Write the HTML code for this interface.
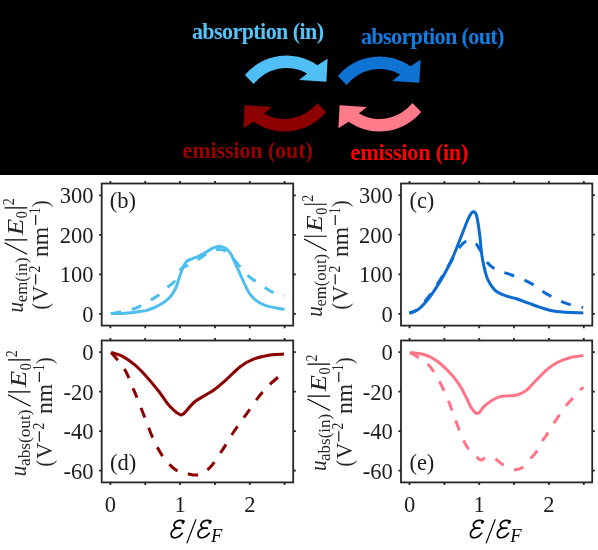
<!DOCTYPE html><html><head><meta charset="utf-8"><style>html,body{margin:0;padding:0;background:#fff;overflow:hidden}svg{display:block;will-change:transform}</style></head><body>
<svg width="598" height="550" viewBox="0 0 598 550">
<rect x="0" y="0" width="598" height="550" fill="#fff"/>
<rect x="0" y="0" width="598" height="175" fill="#000"/>
<path d="M244.9,75.0 A54,54 0 0 1 317.4,65.2 L327.6,58.8 L326.4,81.8 L299.2,80.0 L307.1,73.6 A41.5,41.5 0 0 0 253.6,84.1 Z" fill="#50BFF5"/>
<path d="M244.9,75.0 A54,54 0 0 1 317.4,65.2 L327.6,58.8 L326.4,81.8 L299.2,80.0 L307.1,73.6 A41.5,41.5 0 0 0 253.6,84.1 Z" fill="#0F73D4" transform="translate(93,1)"/>
<path d="M244.9,75.0 A54,54 0 0 1 317.4,65.2 L327.6,58.8 L326.4,81.8 L299.2,80.0 L307.1,73.6 A41.5,41.5 0 0 0 253.6,84.1 Z" fill="#8C0000" transform="translate(571,187) rotate(180)"/>
<path d="M244.9,75.0 A54,54 0 0 1 317.4,65.2 L327.6,58.8 L326.4,81.8 L299.2,80.0 L307.1,73.6 A41.5,41.5 0 0 0 253.6,84.1 Z" fill="#FF7B8A" transform="translate(666,187) rotate(180)"/>
<text x="0" y="0" transform="translate(191.9,39.4) scale(0.950,1)" textLength="139.1" lengthAdjust="spacing" fill="#55C3F8" style="font-family:'Liberation Serif',serif;font-weight:bold;font-size:23.2px">absorption (in)</text>
<text x="0" y="0" transform="translate(360.9,43.7) scale(0.950,1)" textLength="151.2" lengthAdjust="spacing" fill="#147CE0" style="font-family:'Liberation Serif',serif;font-weight:bold;font-size:23.5px">absorption (out)</text>
<text x="0" y="0" transform="translate(182.5,158.1) scale(0.950,1)" textLength="137.1" lengthAdjust="spacing" fill="#9A0000" style="font-family:'Liberation Serif',serif;font-weight:bold;font-size:23.2px">emission (out)</text>
<text x="0" y="0" transform="translate(350.5,159.9) scale(0.950,1)" textLength="124.2" lengthAdjust="spacing" fill="#FF0000" style="font-family:'Liberation Serif',serif;font-weight:bold;font-size:23.5px">emission (in)</text>
<clipPath id="clipb"><rect x="101.7" y="183.5" width="191.5" height="142.1"/></clipPath>
<g clip-path="url(#clipb)" fill="none" stroke="#4DBEEE" stroke-width="3">
<path d="M110.9,313.6 C114.4,312.9 126.9,310.6 131.8,309.4 C136.7,308.1 136.8,307.8 140.1,306.1 C143.4,304.4 148.7,301.2 151.8,299.4 C154.9,297.6 155.9,297.2 158.5,295.2 C161.1,293.2 164.7,289.5 167.4,287.2 C170.1,284.9 172.4,284.3 174.7,281.2 C177.0,278.1 179.1,271.1 181.4,268.4 C183.8,265.7 185.9,266.7 188.8,265.1 C191.7,263.6 195.8,261.0 198.8,259.1 C201.8,257.2 203.9,255.3 206.8,253.7 C209.7,252.1 213.1,250.1 216.2,249.7 C219.3,249.2 222.7,249.4 225.6,251.0 C228.5,252.6 231.2,256.5 233.6,259.1 C236.0,261.7 237.7,264.0 240.2,266.8 C242.7,269.6 246.0,273.6 248.5,276.0 C251.0,278.4 252.4,279.1 255.2,281.0 C258.0,282.9 262.1,285.8 265.2,287.7 C268.3,289.6 270.4,291.3 273.6,292.7 C276.8,294.1 282.7,295.4 284.5,296.0" stroke-dasharray="10.4 10.8" stroke-dashoffset="0.0"/>
<path d="M110.9,313.6 C113.2,313.6 120.7,313.6 125.0,313.3 C129.3,313.0 132.9,312.6 136.8,312.0 C140.7,311.4 144.7,311.1 148.6,309.8 C152.5,308.6 156.8,306.6 160.4,304.5 C164.0,302.4 167.3,300.1 169.9,297.3 C172.5,294.6 174.2,291.3 175.8,288.0 C177.4,284.7 178.1,280.9 179.3,277.5 C180.5,274.1 181.7,270.6 182.9,267.9 C184.1,265.2 185.0,263.0 186.5,261.5 C188.0,260.0 190.0,259.7 192.0,258.8 C194.0,257.9 196.4,257.4 198.6,256.4 C200.8,255.4 202.8,254.0 205.3,252.6 C207.8,251.2 210.9,248.8 213.4,247.8 C215.9,246.8 218.0,246.4 220.1,246.5 C222.2,246.6 224.1,247.1 225.9,248.4 C227.7,249.7 229.3,251.4 231.0,254.2 C232.7,257.0 234.3,261.5 236.0,265.1 C237.7,268.7 239.5,272.6 241.0,276.0 C242.5,279.4 243.7,282.1 245.2,285.2 C246.7,288.3 248.2,291.8 250.2,294.4 C252.1,297.0 254.4,299.3 256.9,301.1 C259.4,302.9 262.1,304.2 265.2,305.3 C268.3,306.4 272.1,307.1 275.3,307.8 C278.5,308.5 283.0,309.1 284.5,309.4"/>
</g>
<g stroke="#262626" stroke-width="1.8" fill="none">
<rect x="101.7" y="183.5" width="191.5" height="142.1"/>
<path d="M110.4,183.5v-2.6M110.4,325.6v2.6"/>
<path d="M145.2,183.5v-2.6M145.2,325.6v2.6"/>
<path d="M180.1,183.5v-2.6M180.1,325.6v2.6"/>
<path d="M215.0,183.5v-2.6M215.0,325.6v2.6"/>
<path d="M249.8,183.5v-2.6M249.8,325.6v2.6"/>
<path d="M284.6,183.5v-2.6M284.6,325.6v2.6"/>
<path d="M101.7,313.9h-2.6M293.2,313.9h2.6"/>
<path d="M101.7,274.4h-2.6M293.2,274.4h2.6"/>
<path d="M101.7,234.8h-2.6M293.2,234.8h2.6"/>
<path d="M101.7,195.3h-2.6M293.2,195.3h2.6"/>
</g>
<text x="93.4" y="321.8" text-anchor="end" fill="#1c1c1c" style="font-family:'Liberation Serif',serif;font-size:22.5px">0</text>
<text x="93.4" y="282.3" text-anchor="end" fill="#1c1c1c" style="font-family:'Liberation Serif',serif;font-size:22.5px">100</text>
<text x="93.4" y="242.7" text-anchor="end" fill="#1c1c1c" style="font-family:'Liberation Serif',serif;font-size:22.5px">200</text>
<text x="93.4" y="203.2" text-anchor="end" fill="#1c1c1c" style="font-family:'Liberation Serif',serif;font-size:22.5px">300</text>
<text x="109.8" y="207.5" fill="#1c1c1c" style="font-family:'Liberation Serif',serif;font-size:22.5px">(b)</text>
<clipPath id="clipc"><rect x="401.0" y="183.5" width="191.3" height="142.1"/></clipPath>
<g clip-path="url(#clipc)" fill="none" stroke="#0B6BD0" stroke-width="3">
<path d="M409.4,313.1 C410.8,312.4 414.6,312.0 418.0,309.0 C421.4,306.0 426.3,299.8 430.0,295.0 C433.7,290.2 436.9,284.9 440.0,280.0 C443.1,275.1 445.2,271.2 448.7,265.5 C452.1,259.8 457.4,250.1 460.7,245.9 C464.0,241.7 465.9,241.0 468.3,240.4 C470.7,239.8 472.9,241.0 474.9,242.6 C476.9,244.2 478.1,246.8 480.3,250.2 C482.5,253.6 485.3,260.0 488.0,263.3 C490.7,266.6 493.1,268.1 496.7,269.9 C500.2,271.7 504.0,272.2 509.3,274.2 C514.6,276.2 522.5,278.9 528.6,282.1 C534.8,285.3 540.1,290.1 546.2,293.6 C552.4,297.1 559.4,300.9 565.5,303.2 C571.6,305.5 580.2,306.9 583.1,307.6" stroke-dasharray="10.4 10.8" stroke-dashoffset="1.8"/>
<path d="M409.4,313.3 C410.8,312.7 415.2,311.7 418.1,309.6 C421.0,307.5 423.9,304.3 426.8,300.8 C429.7,297.3 432.7,293.0 435.6,288.6 C438.5,284.2 441.4,279.5 444.3,274.2 C447.2,268.9 450.1,263.4 453.0,256.8 C455.9,250.2 459.2,241.3 461.8,234.9 C464.4,228.5 466.5,222.4 468.3,218.6 C470.1,214.8 471.3,212.5 472.7,212.0 C474.1,211.5 475.4,211.8 476.5,215.5 C477.6,219.2 478.8,227.7 479.6,234.0 C480.5,240.3 480.8,247.8 481.6,253.4 C482.4,258.9 483.2,263.0 484.2,267.3 C485.2,271.6 486.0,275.6 487.7,279.4 C489.4,283.1 491.9,287.2 494.6,289.8 C497.3,292.4 500.4,293.7 504.0,295.2 C507.6,296.7 512.2,297.5 516.3,298.8 C520.4,300.1 524.5,301.7 528.6,303.2 C532.7,304.7 536.2,306.2 540.9,307.6 C545.6,309.0 549.6,310.6 556.7,311.5 C563.8,312.4 578.9,312.7 583.3,312.9"/>
</g>
<g stroke="#262626" stroke-width="1.8" fill="none">
<rect x="401.0" y="183.5" width="191.3" height="142.1"/>
<path d="M409.5,183.5v-2.6M409.5,325.6v2.6"/>
<path d="M444.4,183.5v-2.6M444.4,325.6v2.6"/>
<path d="M479.2,183.5v-2.6M479.2,325.6v2.6"/>
<path d="M514.0,183.5v-2.6M514.0,325.6v2.6"/>
<path d="M548.9,183.5v-2.6M548.9,325.6v2.6"/>
<path d="M583.8,183.5v-2.6M583.8,325.6v2.6"/>
<path d="M401.0,313.8h-2.6M592.3,313.8h2.6"/>
<path d="M401.0,274.3h-2.6M592.3,274.3h2.6"/>
<path d="M401.0,234.7h-2.6M592.3,234.7h2.6"/>
<path d="M401.0,195.2h-2.6M592.3,195.2h2.6"/>
</g>
<text x="392.7" y="321.7" text-anchor="end" fill="#1c1c1c" style="font-family:'Liberation Serif',serif;font-size:22.5px">0</text>
<text x="392.7" y="282.2" text-anchor="end" fill="#1c1c1c" style="font-family:'Liberation Serif',serif;font-size:22.5px">100</text>
<text x="392.7" y="242.6" text-anchor="end" fill="#1c1c1c" style="font-family:'Liberation Serif',serif;font-size:22.5px">200</text>
<text x="392.7" y="203.1" text-anchor="end" fill="#1c1c1c" style="font-family:'Liberation Serif',serif;font-size:22.5px">300</text>
<text x="409.4" y="207.5" fill="#1c1c1c" style="font-family:'Liberation Serif',serif;font-size:22.5px">(c)</text>
<clipPath id="clipd"><rect x="101.7" y="340.5" width="191.5" height="141.9"/></clipPath>
<g clip-path="url(#clipd)" fill="none" stroke="#8B0000" stroke-width="3">
<path d="M111.1,352.4 C113.4,355.3 120.8,363.1 124.7,369.6 C128.6,376.2 131.2,383.9 134.5,391.7 C137.8,399.5 141.0,408.1 144.3,416.3 C147.6,424.5 150.8,433.9 154.1,440.8 C157.4,447.8 160.3,453.1 164.0,458.0 C167.7,462.9 172.2,467.6 176.3,470.3 C180.4,473.0 184.8,473.3 188.5,474.0 C192.2,474.7 194.9,475.7 198.4,474.7 C201.9,473.7 205.8,471.8 209.7,467.8 C213.6,463.8 217.9,456.8 222.0,450.7 C226.1,444.6 230.2,437.1 234.3,431.0 C238.4,424.9 242.5,419.5 246.6,413.8 C250.7,408.1 255.2,401.3 258.9,396.6 C262.6,391.9 265.2,389.0 268.7,385.5 C272.2,382.0 277.2,377.9 279.8,375.7 C282.4,373.4 283.6,372.6 284.4,372.0" stroke-dasharray="10.4 10.8" stroke-dashoffset="0.0"/>
<path d="M111.1,352.4 C112.9,353.0 118.3,354.1 122.2,356.1 C126.1,358.2 130.4,361.2 134.5,364.7 C138.6,368.2 142.7,372.4 146.8,376.9 C150.9,381.4 155.4,387.0 159.1,391.7 C162.8,396.4 165.6,401.5 168.9,405.2 C172.2,408.9 176.2,412.4 178.7,413.8 C181.1,415.2 180.9,415.9 183.6,413.8 C186.3,411.8 190.1,405.4 195.1,401.5 C200.1,397.6 208.5,393.8 213.5,390.3 C218.5,386.8 220.8,384.5 225.2,380.6 C229.6,376.7 235.5,370.3 240.2,366.7 C244.9,363.1 248.6,361.1 253.6,359.2 C258.6,357.2 264.9,355.9 270.0,355.0 C275.1,354.1 281.7,354.2 284.0,354.1"/>
</g>
<g stroke="#262626" stroke-width="1.8" fill="none">
<rect x="101.7" y="340.5" width="191.5" height="141.9"/>
<path d="M110.4,340.5v-2.6M110.4,482.4v2.6"/>
<path d="M145.2,340.5v-2.6M145.2,482.4v2.6"/>
<path d="M180.1,340.5v-2.6M180.1,482.4v2.6"/>
<path d="M215.0,340.5v-2.6M215.0,482.4v2.6"/>
<path d="M249.8,340.5v-2.6M249.8,482.4v2.6"/>
<path d="M284.6,340.5v-2.6M284.6,482.4v2.6"/>
<path d="M101.7,352.2h-2.6M293.2,352.2h2.6"/>
<path d="M101.7,391.7h-2.6M293.2,391.7h2.6"/>
<path d="M101.7,431.2h-2.6M293.2,431.2h2.6"/>
<path d="M101.7,470.7h-2.6M293.2,470.7h2.6"/>
</g>
<text x="93.4" y="360.1" text-anchor="end" fill="#1c1c1c" style="font-family:'Liberation Serif',serif;font-size:22.5px">0</text>
<text x="93.4" y="399.6" text-anchor="end" fill="#1c1c1c" style="font-family:'Liberation Serif',serif;font-size:22.5px">-20</text>
<text x="93.4" y="439.1" text-anchor="end" fill="#1c1c1c" style="font-family:'Liberation Serif',serif;font-size:22.5px">-40</text>
<text x="93.4" y="478.6" text-anchor="end" fill="#1c1c1c" style="font-family:'Liberation Serif',serif;font-size:22.5px">-60</text>
<text x="110.1" y="469.6" fill="#1c1c1c" style="font-family:'Liberation Serif',serif;font-size:22.5px">(d)</text>
<text x="110.4" y="511.8" text-anchor="middle" fill="#1c1c1c" style="font-family:'Liberation Serif',serif;font-size:22.5px">0</text>
<text x="180.1" y="511.8" text-anchor="middle" fill="#1c1c1c" style="font-family:'Liberation Serif',serif;font-size:22.5px">1</text>
<text x="249.8" y="511.8" text-anchor="middle" fill="#1c1c1c" style="font-family:'Liberation Serif',serif;font-size:22.5px">2</text>
<clipPath id="clipe"><rect x="401.0" y="340.5" width="191.2" height="141.9"/></clipPath>
<g clip-path="url(#clipe)" fill="none" stroke="#FF7486" stroke-width="3">
<path d="M409.9,352.4 C412.8,354.2 422.6,359.3 427.1,363.4 C431.6,367.5 433.6,371.5 436.9,377.0 C440.2,382.5 443.9,390.1 446.8,396.6 C449.7,403.2 451.7,409.8 454.1,416.3 C456.6,422.9 459.2,430.5 461.5,435.9 C463.8,441.2 465.5,444.9 468.0,448.4 C470.5,451.9 474.2,454.8 476.4,456.7 C478.6,458.6 479.6,459.9 481.0,460.1 C482.4,460.3 483.4,458.6 484.7,458.1 C486.0,457.6 487.4,457.3 489.0,457.3 C490.6,457.3 492.2,457.0 494.5,458.2 C496.8,459.4 499.7,462.7 502.7,464.5 C505.7,466.3 510.3,468.3 512.7,469.1 C515.1,469.9 515.3,469.8 517.0,469.5 C518.7,469.2 520.5,469.0 522.7,467.3 C524.9,465.6 527.7,461.7 530.0,459.1 C532.3,456.5 534.4,454.7 536.4,451.8 C538.4,448.9 539.8,445.0 541.8,441.8 C543.8,438.6 546.2,435.7 548.2,432.7 C550.2,429.7 551.8,426.5 553.6,423.6 C555.4,420.7 557.1,418.4 559.1,415.5 C561.1,412.6 563.2,409.3 565.5,406.4 C567.8,403.5 570.3,400.9 572.7,398.2 C575.1,395.5 578.2,391.8 580.0,390.0 C581.8,388.2 583.0,387.8 583.6,387.3" stroke-dasharray="10.4 10.8" stroke-dashoffset="0.0"/>
<path d="M409.9,352.4 C412.4,352.8 420.2,353.4 424.7,354.8 C429.2,356.2 432.8,358.1 436.9,361.0 C441.0,363.9 445.5,368.1 449.2,372.0 C452.9,375.9 456.2,380.0 459.1,384.3 C462.0,388.6 464.4,393.9 466.4,397.8 C468.4,401.7 469.6,405.0 471.3,407.6 C473.0,410.2 474.9,412.6 476.3,413.3 C477.7,414.0 478.7,412.9 479.9,411.8 C481.1,410.7 481.8,408.7 483.6,406.9 C485.5,405.1 488.3,402.7 491.0,401.0 C493.7,399.3 497.2,397.5 500.0,396.6 C502.8,395.7 505.4,396.0 508.0,395.8 C510.6,395.6 513.0,396.1 515.9,395.3 C518.8,394.5 522.2,393.4 525.4,391.1 C528.6,388.8 531.5,384.9 535.0,381.5 C538.5,378.1 542.4,373.6 546.1,370.4 C549.8,367.2 553.2,364.6 557.2,362.5 C561.2,360.4 565.5,358.8 569.9,357.7 C574.2,356.6 581.1,356.0 583.3,355.6"/>
</g>
<g stroke="#262626" stroke-width="1.8" fill="none">
<rect x="401.0" y="340.5" width="191.2" height="141.9"/>
<path d="M409.5,340.5v-2.6M409.5,482.4v2.6"/>
<path d="M444.4,340.5v-2.6M444.4,482.4v2.6"/>
<path d="M479.2,340.5v-2.6M479.2,482.4v2.6"/>
<path d="M514.0,340.5v-2.6M514.0,482.4v2.6"/>
<path d="M548.9,340.5v-2.6M548.9,482.4v2.6"/>
<path d="M583.8,340.5v-2.6M583.8,482.4v2.6"/>
<path d="M401.0,352.2h-2.6M592.2,352.2h2.6"/>
<path d="M401.0,391.7h-2.6M592.2,391.7h2.6"/>
<path d="M401.0,431.2h-2.6M592.2,431.2h2.6"/>
<path d="M401.0,470.7h-2.6M592.2,470.7h2.6"/>
</g>
<text x="392.7" y="360.1" text-anchor="end" fill="#1c1c1c" style="font-family:'Liberation Serif',serif;font-size:22.5px">0</text>
<text x="392.7" y="399.6" text-anchor="end" fill="#1c1c1c" style="font-family:'Liberation Serif',serif;font-size:22.5px">-20</text>
<text x="392.7" y="439.1" text-anchor="end" fill="#1c1c1c" style="font-family:'Liberation Serif',serif;font-size:22.5px">-40</text>
<text x="392.7" y="478.6" text-anchor="end" fill="#1c1c1c" style="font-family:'Liberation Serif',serif;font-size:22.5px">-60</text>
<text x="409.4" y="469.6" fill="#1c1c1c" style="font-family:'Liberation Serif',serif;font-size:22.5px">(e)</text>
<text x="409.5" y="511.8" text-anchor="middle" fill="#1c1c1c" style="font-family:'Liberation Serif',serif;font-size:22.5px">0</text>
<text x="479.2" y="511.8" text-anchor="middle" fill="#1c1c1c" style="font-family:'Liberation Serif',serif;font-size:22.5px">1</text>
<text x="548.9" y="511.8" text-anchor="middle" fill="#1c1c1c" style="font-family:'Liberation Serif',serif;font-size:22.5px">2</text>
<g transform="translate(22.9,312.5) rotate(-90)" fill="#262626" style="font-family:'Liberation Serif',serif">
<text x="0.0" y="0.0" textLength="10.6" lengthAdjust="spacingAndGlyphs" style="font-size:23.0px;font-style:italic">u</text>
<text x="10.2" y="3.9" textLength="44.8" lengthAdjust="spacingAndGlyphs" style="font-size:16.0px">em(in)</text>
<path d="M58.2,4.3L69.8,-18.3M72.7,4.3V-18.3M104.7,4.3V-18.3" stroke="#000" stroke-width="1.15" fill="none"/>
<text x="77.2" y="0.0" textLength="16.5" lengthAdjust="spacingAndGlyphs" style="font-size:23.0px;font-style:italic">E</text>
<text x="94.2" y="4.3" textLength="7.0" lengthAdjust="spacingAndGlyphs" style="font-size:16.0px">0</text>
<text x="107.2" y="-9.0" textLength="7.0" lengthAdjust="spacingAndGlyphs" style="font-size:16.0px">2</text>
</g>
<g transform="translate(48.4,311.6) rotate(-90)" fill="#262626" style="font-family:'Liberation Serif',serif">
<text x="2.2" y="0.0" textLength="6.5" lengthAdjust="spacingAndGlyphs" style="font-size:23.0px">(</text>
<text x="9.6" y="0.0" textLength="16.4" lengthAdjust="spacingAndGlyphs" style="font-size:23.0px">V</text>
<path d="M27.2,-12.7H37.4M86.6,-12.7H96.6" stroke="#000" stroke-width="1.1" fill="none"/>
<text x="39.0" y="-8.2" textLength="6.8" lengthAdjust="spacingAndGlyphs" style="font-size:16.0px">2</text>
<text x="54.6" y="0.0" textLength="30.2" lengthAdjust="spacingAndGlyphs" style="font-size:23.0px">nm</text>
<text x="98.0" y="-8.2" textLength="5.6" lengthAdjust="spacingAndGlyphs" style="font-size:16.0px">1</text>
<text x="104.5" y="0.0" textLength="6.5" lengthAdjust="spacingAndGlyphs" style="font-size:23.0px">)</text>
</g>
<g transform="translate(322.4,316.7) rotate(-90)" fill="#262626" style="font-family:'Liberation Serif',serif">
<text x="0.0" y="0.0" textLength="10.6" lengthAdjust="spacingAndGlyphs" style="font-size:23.0px;font-style:italic">u</text>
<text x="10.2" y="3.9" textLength="52.6" lengthAdjust="spacingAndGlyphs" style="font-size:16.0px">em(out)</text>
<path d="M66.0,4.3L77.6,-18.3M80.5,4.3V-18.3M112.5,4.3V-18.3" stroke="#000" stroke-width="1.15" fill="none"/>
<text x="85.0" y="0.0" textLength="16.5" lengthAdjust="spacingAndGlyphs" style="font-size:23.0px;font-style:italic">E</text>
<text x="102.0" y="4.3" textLength="7.0" lengthAdjust="spacingAndGlyphs" style="font-size:16.0px">0</text>
<text x="115.0" y="-9.0" textLength="7.0" lengthAdjust="spacingAndGlyphs" style="font-size:16.0px">2</text>
</g>
<g transform="translate(347.9,311.6) rotate(-90)" fill="#262626" style="font-family:'Liberation Serif',serif">
<text x="2.2" y="0.0" textLength="6.5" lengthAdjust="spacingAndGlyphs" style="font-size:23.0px">(</text>
<text x="9.6" y="0.0" textLength="16.4" lengthAdjust="spacingAndGlyphs" style="font-size:23.0px">V</text>
<path d="M27.2,-12.7H37.4M86.6,-12.7H96.6" stroke="#000" stroke-width="1.1" fill="none"/>
<text x="39.0" y="-8.2" textLength="6.8" lengthAdjust="spacingAndGlyphs" style="font-size:16.0px">2</text>
<text x="54.6" y="0.0" textLength="30.2" lengthAdjust="spacingAndGlyphs" style="font-size:23.0px">nm</text>
<text x="98.0" y="-8.2" textLength="5.6" lengthAdjust="spacingAndGlyphs" style="font-size:16.0px">1</text>
<text x="104.5" y="0.0" textLength="6.5" lengthAdjust="spacingAndGlyphs" style="font-size:23.0px">)</text>
</g>
<g transform="translate(26.3,476.2) rotate(-90)" fill="#262626" style="font-family:'Liberation Serif',serif">
<text x="0.0" y="0.0" textLength="10.6" lengthAdjust="spacingAndGlyphs" style="font-size:23.0px;font-style:italic">u</text>
<text x="10.2" y="3.9" textLength="56.5" lengthAdjust="spacingAndGlyphs" style="font-size:16.0px">abs(out)</text>
<path d="M69.9,4.3L81.5,-18.3M84.4,4.3V-18.3M116.4,4.3V-18.3" stroke="#000" stroke-width="1.15" fill="none"/>
<text x="88.9" y="0.0" textLength="16.5" lengthAdjust="spacingAndGlyphs" style="font-size:23.0px;font-style:italic">E</text>
<text x="105.9" y="4.3" textLength="7.0" lengthAdjust="spacingAndGlyphs" style="font-size:16.0px">0</text>
<text x="118.9" y="-9.0" textLength="7.0" lengthAdjust="spacingAndGlyphs" style="font-size:16.0px">2</text>
</g>
<g transform="translate(52.0,468.6) rotate(-90)" fill="#262626" style="font-family:'Liberation Serif',serif">
<text x="2.2" y="0.0" textLength="6.5" lengthAdjust="spacingAndGlyphs" style="font-size:23.0px">(</text>
<text x="9.6" y="0.0" textLength="16.4" lengthAdjust="spacingAndGlyphs" style="font-size:23.0px">V</text>
<path d="M27.2,-12.7H37.4M86.6,-12.7H96.6" stroke="#000" stroke-width="1.1" fill="none"/>
<text x="39.0" y="-8.2" textLength="6.8" lengthAdjust="spacingAndGlyphs" style="font-size:16.0px">2</text>
<text x="54.6" y="0.0" textLength="30.2" lengthAdjust="spacingAndGlyphs" style="font-size:23.0px">nm</text>
<text x="98.0" y="-8.2" textLength="5.6" lengthAdjust="spacingAndGlyphs" style="font-size:16.0px">1</text>
<text x="104.5" y="0.0" textLength="6.5" lengthAdjust="spacingAndGlyphs" style="font-size:23.0px">)</text>
</g>
<g transform="translate(325.8,471.1) rotate(-90)" fill="#262626" style="font-family:'Liberation Serif',serif">
<text x="0.0" y="0.0" textLength="10.6" lengthAdjust="spacingAndGlyphs" style="font-size:23.0px;font-style:italic">u</text>
<text x="10.2" y="3.9" textLength="47.1" lengthAdjust="spacingAndGlyphs" style="font-size:16.0px">abs(in)</text>
<path d="M60.5,4.3L72.1,-18.3M75.0,4.3V-18.3M107.0,4.3V-18.3" stroke="#000" stroke-width="1.15" fill="none"/>
<text x="79.5" y="0.0" textLength="16.5" lengthAdjust="spacingAndGlyphs" style="font-size:23.0px;font-style:italic">E</text>
<text x="96.5" y="4.3" textLength="7.0" lengthAdjust="spacingAndGlyphs" style="font-size:16.0px">0</text>
<text x="109.5" y="-9.0" textLength="7.0" lengthAdjust="spacingAndGlyphs" style="font-size:16.0px">2</text>
</g>
<g transform="translate(351.5,468.6) rotate(-90)" fill="#262626" style="font-family:'Liberation Serif',serif">
<text x="2.2" y="0.0" textLength="6.5" lengthAdjust="spacingAndGlyphs" style="font-size:23.0px">(</text>
<text x="9.6" y="0.0" textLength="16.4" lengthAdjust="spacingAndGlyphs" style="font-size:23.0px">V</text>
<path d="M27.2,-12.7H37.4M86.6,-12.7H96.6" stroke="#000" stroke-width="1.1" fill="none"/>
<text x="39.0" y="-8.2" textLength="6.8" lengthAdjust="spacingAndGlyphs" style="font-size:16.0px">2</text>
<text x="54.6" y="0.0" textLength="30.2" lengthAdjust="spacingAndGlyphs" style="font-size:23.0px">nm</text>
<text x="98.0" y="-8.2" textLength="5.6" lengthAdjust="spacingAndGlyphs" style="font-size:16.0px">1</text>
<text x="104.5" y="0.0" textLength="6.5" lengthAdjust="spacingAndGlyphs" style="font-size:23.0px">)</text>
</g>
<path d="M184.1,521.3 C181.5,519.6 176.8,520.0 174.9,522.8 C173.3,525.3 174.1,528.0 177.5,528.2 L180.5,528.1 M177.5,528.2 C173.4,528.6 171.1,531.6 171.1,534.3 C171.1,537.6 174.1,538.2 176.7,537.5 C179.1,536.9 181.1,535.0 182.3,533.3" fill="none" stroke="#000" stroke-width="1.7" stroke-linecap="round"/><circle cx="182.9" cy="522.6" r="1.35" fill="#000"/>
<path d="M211.0,521.3 C208.4,519.6 203.7,520.0 201.8,522.8 C200.2,525.3 201.0,528.0 204.4,528.2 L207.4,528.1 M204.4,528.2 C200.3,528.6 198.0,531.6 198.0,534.3 C198.0,537.6 201.0,538.2 203.6,537.5 C206.0,536.9 208.0,535.0 209.2,533.3" fill="none" stroke="#000" stroke-width="1.7" stroke-linecap="round"/><circle cx="209.8" cy="522.6" r="1.35" fill="#000"/>
<path d="M186.8,543.3L196.0,519.3" stroke="#000" stroke-width="1.15"/>
<text x="210.9" y="541.6" fill="#000" style="font-family:'Liberation Serif',serif;font-size:18.6px;font-style:italic">F</text>
<path d="M483.4,521.3 C480.8,519.6 476.1,520.0 474.2,522.8 C472.6,525.3 473.4,528.0 476.8,528.2 L479.8,528.1 M476.8,528.2 C472.7,528.6 470.4,531.6 470.4,534.3 C470.4,537.6 473.4,538.2 476.0,537.5 C478.4,536.9 480.4,535.0 481.6,533.3" fill="none" stroke="#000" stroke-width="1.7" stroke-linecap="round"/><circle cx="482.2" cy="522.6" r="1.35" fill="#000"/>
<path d="M510.3,521.3 C507.7,519.6 503.0,520.0 501.1,522.8 C499.5,525.3 500.3,528.0 503.7,528.2 L506.7,528.1 M503.7,528.2 C499.6,528.6 497.3,531.6 497.3,534.3 C497.3,537.6 500.3,538.2 502.9,537.5 C505.3,536.9 507.3,535.0 508.5,533.3" fill="none" stroke="#000" stroke-width="1.7" stroke-linecap="round"/><circle cx="509.1" cy="522.6" r="1.35" fill="#000"/>
<path d="M486.1,543.3L495.3,519.3" stroke="#000" stroke-width="1.15"/>
<text x="510.2" y="541.6" fill="#000" style="font-family:'Liberation Serif',serif;font-size:18.6px;font-style:italic">F</text>
</svg></body></html>
